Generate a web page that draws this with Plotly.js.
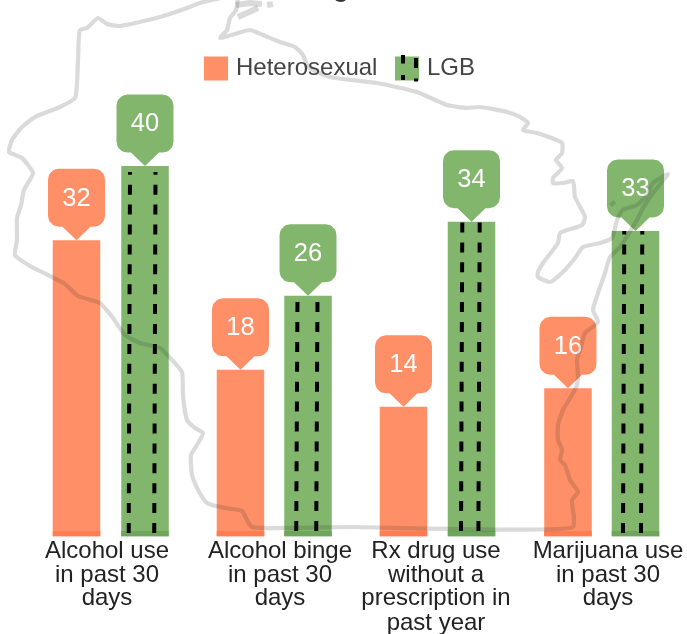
<!DOCTYPE html>
<html>
<head>
<meta charset="utf-8">
<script src="https://cdn.plot.ly/plotly-3.0.1.min.js"></script>
<style>html,body{margin:0;padding:0;background:#fff;overflow:hidden}#chart{width:687px;height:634px;filter:blur(0.5px)}</style>
</head>
<body>
<div id="chart"></div>
<script>
// ---- data ----
const groups = [0, 1, 2, 3];
const heterosexual = [32, 18, 14, 16];
const lgb = [40, 26, 34, 33];
const barBand = [0.6, 0.6, 0.6, 0.6];
const hetOffsets = [-0.211, -0.208, -0.211, -0.205];
const lgbOffsets = [0.208, 0.205, 0.205, 0.208];
const barWidth = 0.2905;
const dashLeftX = [0.1162, 1.1407, 2.1486, 3.1394];
const dashRightX = [0.2722, 1.2630, 2.2550, 3.2495];
const dashTilt = 0.008;
const dashEnds = [39.36, 26, 34, 33];
const dashPhase = ['0px,3.5px,10px,6.4px', '0px,5.5px,10px,4.4px', '0px,5.5px,10px,4.4px', '0px,3.5px,10px,6.4px'];
const labelLines = [
  ['Alcohol use', 'in past 30', 'days'],
  ['Alcohol binge', 'in past 30', 'days'],
  ['Rx drug use', 'without a', 'prescription in', 'past year'],
  ['Marijuana use', 'in past 30', 'days']
];
const labelCentres = [107, 280, 436, 608];
const labelRows = [552, 575.5, 599, 623.5];
const seriesNames = ['Heterosexual', 'LGB'];
const colours = {het: '#FF8F66', lgb: '#82B66C', hetBand: '#FF7D50', lgbBand: '#6EA65C'};

// Wisconsin outline (page pixels)
const stateX = [225,200,187,160,120,107,98,87,80,78,75,60,35,22,12,9,22,33,24,21,17,17,15,30,50,65,78,100,113,125,140,160,172,182,183,187,195,203,197,191,192,198,207,225,242,248,252,350,573,574,572,578,570,565,560,562,558,558,563,572,577,578,577,581,585,598,593,598,605,610,620,637,643,653,668,653,647,637,623,617,612,600,583,575,563,550,538,538,543,558,560,582,585,575,573,563,553,553,562,556,562,562,537,523,528,520,507,480,467,447,417,377,330,308,303,295,280,263,250,238,220,227,230,236,238];
const stateY = [-3,3,8,17,26,24,18,28,30,60,98,107,117,127,140,152,158,173,190,205,218,240,255,266,276,284,296,303,318,335,343,348,360,372,395,420,428,433,445,455,475,490,503,508,511,522,527,527,527,518,500,492,480,465,460,450,440,425,410,395,385,375,360,347,333,322,310,293,273,257,247,220,208,193,174,183,195,205,210,220,238,243,247,258,272,282,277,272,263,243,233,225,217,197,181,183,183,178,168,160,153,143,133,130,123,117,112,107,108,105,92,83,77,67,55,47,42,35,30,33,38,30,18,10,-3];
const islandX = [238,250,258,null,236,250,262,null,267,273];
const islandY = [17,12,8,null,5,3,4,null,5,4];
const bayIslandX = [611,614];
const bayIslandY = [202,205];

const legendSwatchHetX = [216];
const legendSwatchLgbX = [407];
const legendSwatchY = [68.5];
const legendDashX = [403,403,null,403,403,null,416,416,null,416,416];
const legendDashY = [55,63.5,null,75,80,null,58,68,null,78.5,81.5];
const titleBitsX = [341, 408];
const titleBitsText = ['g', ','];

// ---- geometry ----
const W = 687, H = 634;
const pxX = 163.5, pxY = 9.26;
const left = 29.25, baseY = 536.5;

function callout(xc, v) {
  const hw = 28.5, r = 11, tipGap = 13.5, boxH = 58, neck = 14;
  const xs = [], ys = [];
  const put = (dx, dy) => { xs.push(xc + dx / pxX); ys.push(v + dy / pxY); };
  const arc = (cx, cy, a0, a1) => {
    for (let k = 0; k <= 8; k++) {
      const a = (a0 + (a1 - a0) * k / 8) * Math.PI / 180;
      put(cx + r * Math.cos(a), cy + r * Math.sin(a));
    }
  };
  put(0, 0);
  put(neck, tipGap);
  arc(hw - r, tipGap + r, -90, 0);
  arc(hw - r, tipGap + boxH - r, 0, 90);
  arc(-hw + r, tipGap + boxH - r, 90, 180);
  arc(-hw + r, tipGap + r, 180, 270);
  put(-neck, tipGap);
  put(0, 0);
  return {x: xs, y: ys};
}

const traces = [];
const hetCentres = groups.map((g, i) => g + hetOffsets[i]);
const lgbCentres = groups.map((g, i) => g + lgbOffsets[i]);

traces.push({type: 'bar', x: hetCentres, y: heterosexual, width: barWidth, name: seriesNames[0],
  marker: {color: colours.het, line: {width: 0}}, hoverinfo: 'skip', showlegend: false});
traces.push({type: 'bar', x: lgbCentres, y: lgb, width: barWidth, name: seriesNames[1],
  marker: {color: colours.lgb, line: {width: 0}}, hoverinfo: 'skip', showlegend: false});
traces.push({type: 'bar', x: hetCentres, y: barBand, width: barWidth,
  marker: {color: colours.hetBand, line: {width: 0}}, hoverinfo: 'skip', showlegend: false});
traces.push({type: 'bar', x: lgbCentres, y: barBand, width: barWidth,
  marker: {color: colours.lgbBand, line: {width: 0}}, hoverinfo: 'skip', showlegend: false});

groups.forEach((g, i) => {
  [dashLeftX[i], dashRightX[i]].forEach(dx => {
    traces.push({type: 'scatter', mode: 'lines', x: [dx - dashTilt, dx], y: [0, dashEnds[i]],
      line: {color: '#000', width: 4, dash: dashPhase[i]}, hoverinfo: 'skip', showlegend: false});
  });
});

function addCallouts(centres, values, colour) {
  centres.forEach((c, i) => {
    const p = callout(c, values[i]);
    traces.push({type: 'scatter', mode: 'lines', x: p.x, y: p.y, fill: 'toself', fillcolor: colour,
      line: {width: 0, color: colour}, hoverinfo: 'skip', showlegend: false});
  });
  traces.push({type: 'scatter', mode: 'text', x: centres, y: values.map(v => v + 41 / pxY),
    text: values.map(String), textposition: 'middle center',
    textfont: {family: 'Liberation Sans, Arial, sans-serif', size: 25.5, color: '#fff'},
    hoverinfo: 'skip', showlegend: false});
}
addCallouts(hetCentres, heterosexual, colours.het);
addCallouts(lgbCentres, lgb, colours.lgb);

// page-pixel overlay subplot: state outline, category labels, legend
const over = {xaxis: 'x2', yaxis: 'y2', hoverinfo: 'skip', showlegend: false};
const stateLine = {color: 'rgba(50,50,50,0.18)', width: 4.2, shape: 'spline', smoothing: 0.5};
traces.push({...over, type: 'scatter', mode: 'lines', x: stateX, y: stateY, line: stateLine});
traces.push({...over, type: 'scatter', mode: 'lines', x: islandX, y: islandY, connectgaps: false,
  line: {color: 'rgba(50,50,50,0.18)', width: 6}});
traces.push({...over, type: 'scatter', mode: 'lines', x: bayIslandX, y: bayIslandY,
  line: {color: 'rgba(50,50,50,0.18)', width: 6}});

const lx = [], ly = [], lt = [];
labelLines.forEach((lines, i) => lines.forEach((t, r) => { lx.push(labelCentres[i]); ly.push(labelRows[r]); lt.push(t); }));
traces.push({...over, type: 'scatter', mode: 'text', x: lx, y: ly, text: lt, textposition: 'middle center',
  textfont: {family: 'Liberation Sans, Arial, sans-serif', size: 24, color: '#222'}});

traces.push({...over, type: 'scatter', mode: 'markers', x: legendSwatchHetX, y: legendSwatchY,
  marker: {symbol: 'square', size: 24, color: colours.het, line: {width: 0}}});
traces.push({...over, type: 'scatter', mode: 'markers', x: legendSwatchLgbX, y: legendSwatchY,
  marker: {symbol: 'square', size: 24, color: colours.lgb, line: {width: 0}}});
traces.push({...over, type: 'scatter', mode: 'lines', x: legendDashX, y: legendDashY, connectgaps: false,
  line: {color: '#000', width: 4}});
traces.push({...over, type: 'scatter', mode: 'text', x: [236, 427], y: [69, 69], text: seriesNames,
  textposition: 'middle right',
  textfont: {family: 'Liberation Sans, Arial, sans-serif', size: 24, color: '#444'}});
traces.push({...over, type: 'scatter', mode: 'text', x: titleBitsX, y: [3, 1], text: titleBitsText,
  textposition: 'top center',
  textfont: {family: 'Liberation Sans, Arial, sans-serif', size: 32, color: '#333'}});

const layout = {
  width: W, height: H,
  margin: {l: 0, r: 0, t: 0, b: 0},
  paper_bgcolor: '#fff', plot_bgcolor: 'rgba(0,0,0,0)',
  barmode: 'overlay',
  showlegend: false,
  xaxis: {domain: [left / W, (left + 4 * pxX) / W], range: [-0.5, 3.5], visible: false, fixedrange: true},
  yaxis: {domain: [(H - baseY) / H, 1], range: [0, baseY / pxY], visible: false, fixedrange: true},
  xaxis2: {domain: [0, 1], range: [0, W], visible: false, anchor: 'y2', fixedrange: true},
  yaxis2: {domain: [0, 1], range: [H, 0], visible: false, anchor: 'x2', fixedrange: true}
};
Plotly.newPlot('chart', traces, layout, {staticPlot: true, displayModeBar: false});
</script>
</body>
</html>
